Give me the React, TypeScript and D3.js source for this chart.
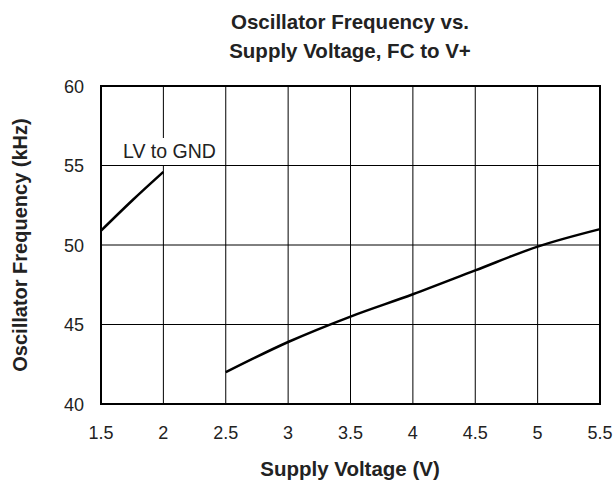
import * as d3 from 'd3';

const xTicks = [1.5, 2, 2.5, 3, 3.5, 4, 4.5, 5, 5.5];
const yTicks = [40, 45, 50, 55, 60];

// LV tied to GND
const lvVolts = [1.5, 1.75, 2];
const lvFreq = [50.9, 52.8, 54.6];

// main curve, FC to V+
const mainVolts = [2.5, 3, 3.5, 4, 4.5, 5, 5.5];
const mainFreq = [42.0, 43.9, 45.5, 46.9, 48.4, 49.9, 51.0];

export default function App() {
  const width = 616;
  const height = 480;
  const left = 101;
  const right = 600;
  const top = 86;
  const bottom = 404;

  const x = d3.scaleLinear().domain([1.5, 5.5]).range([left, right]);
  const y = d3.scaleLinear().domain([40, 60]).range([bottom, top]);

  const line = d3.line<[number, number]>()
    .x(d => x(d[0]))
    .y(d => y(d[1]))
    .curve(d3.curveMonotoneX);

  const lvPts = lvVolts.map((v, i) => [v, lvFreq[i]] as [number, number]);
  const mainPts = mainVolts.map((v, i) => [v, mainFreq[i]] as [number, number]);

  const font = '"Liberation Sans", Arial, Helvetica, sans-serif';
  const ink = '#222';

  return (
    <svg width={width} height={height} style={{position: 'absolute', left: 0, top: 0}} fontFamily={font}>
      <rect width={width} height={height} fill="#fff" />

      <text x={350} y={29} textAnchor="middle" fontSize={20.5} fontWeight="bold" fill={ink}>Oscillator Frequency vs.</text>
      <text x={350} y={58} textAnchor="middle" fontSize={20.5} fontWeight="bold" fill={ink}>Supply Voltage, FC to V+</text>

      {/* grid */}
      {xTicks.slice(1, -1).map(t => (
        <line key={'gx' + t} x1={x(t)} x2={x(t)} y1={top} y2={bottom} stroke="#000" strokeWidth={1} />
      ))}
      {yTicks.slice(1, -1).map(t => (
        <line key={'gy' + t} x1={left} x2={right} y1={y(t)} y2={y(t)} stroke="#000" strokeWidth={1} />
      ))}

      {/* label with white backing, only hides the 2 V gridline */}
      <rect x={150} y={138} width={30} height={27} fill="#fff" />
      <text x={123} y={158} fontSize={19.5} fill={ink}>LV to GND</text>

      <path d={line(lvPts) ?? ''} fill="none" stroke="#000" strokeWidth={2.5} />
      <path d={line(mainPts) ?? ''} fill="none" stroke="#000" strokeWidth={2.5} />

      <rect x={left} y={top} width={right - left} height={bottom - top} fill="none" stroke="#000" strokeWidth={2} />

      {yTicks.map(t => (
        <text key={'ty' + t} x={84} y={y(t) + 6.5} textAnchor="end" fontSize={18} fill={ink}>{t}</text>
      ))}
      {xTicks.map(t => (
        <text key={'tx' + t} x={x(t)} y={439} textAnchor="middle" fontSize={18} fill={ink}>{t}</text>
      ))}

      <text x={350} y={476} textAnchor="middle" fontSize={20.5} fontWeight="bold" fill={ink}>Supply Voltage (V)</text>
      <text transform={`translate(27, ${(top + bottom) / 2}) rotate(-90)`} textAnchor="middle" fontSize={20} fontWeight="bold" fill={ink}>Oscillator Frequency (kHz)</text>
    </svg>
  );
}
